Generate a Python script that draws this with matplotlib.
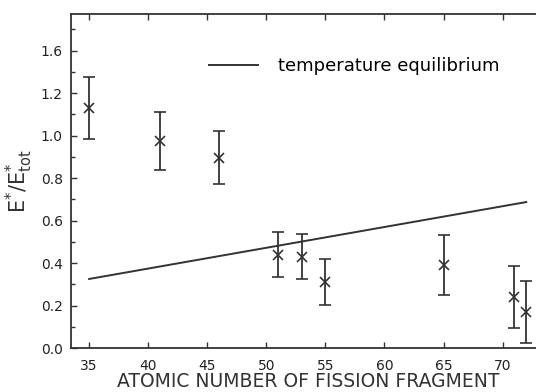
import matplotlib
matplotlib.use("Agg")
import matplotlib.pyplot as plt
import numpy as np

# atomic number Z of fission fragment, E*/E*tot and its error
z_frag = [35, 41, 46, 51, 53, 55, 65, 71, 72]
e_ratio = [1.13, 0.975, 0.895, 0.44, 0.43, 0.31, 0.39, 0.24, 0.17]
e_err = [0.145, 0.135, 0.125, 0.107, 0.107, 0.107, 0.14, 0.145, 0.145]

# temperature equilibrium line
z_eq = [35, 72]
e_eq = [0.325, 0.687]

xticks = [35, 40, 45, 50, 55, 60, 65, 70]
yticks = [0.0, 0.2, 0.4, 0.6, 0.8, 1.0, 1.2, 1.4]
ytick_labels = ["0.0", "0.2", "0.4", "0.6", "0.8", "1.0", "1.2", "1.6"]

matplotlib.rcParams.update({'font.size': 10, 'font.family': 'DejaVu Sans'})
col = '#333333'

fig = plt.figure(figsize=(5.36, 3.92), dpi=100)
ax = fig.add_axes([0.1325, 0.1122, 0.868, 0.852])

ax.plot(z_eq, e_eq, color=col, lw=1.4, label="temperature equilibrium")
ax.errorbar(z_frag, e_ratio, yerr=e_err, fmt='x', color=col, ms=7, mew=1.2,
            elinewidth=1.3, capsize=4, capthick=1.3)

ax.set_xlim(33.47, 72.85)
ax.set_ylim(0, 1.572)
ax.set_xticks(xticks)
ax.set_yticks(yticks)
ax.set_yticklabels(ytick_labels)
ax.set_yticks(np.arange(0.1, 1.55, 0.2), minor=True)

ax.tick_params(direction='in', top=True, right=False, length=4, width=1, colors=col,
               labelcolor='#222222', labelsize=10)
ax.tick_params(which='minor', direction='in', length=3, width=1, left=True, colors=col)
ax.tick_params(axis='x', pad=8)
ax.tick_params(axis='y', pad=6)
for s in ['left', 'bottom', 'top']:
    ax.spines[s].set_color(col)
    ax.spines[s].set_linewidth(1.3)
ax.spines['right'].set_visible(False)

ax.set_xlabel("ATOMIC NUMBER OF FISSION FRAGMENT", fontsize=13.5, color='#333333', labelpad=0)
ax.xaxis.set_label_coords(0.51, -0.072)
ax.set_ylabel("E$^{*}$/E$^{*}_{\\mathrm{tot}}$", fontsize=15, color='#333333', labelpad=4)

ax.legend(loc='upper left', bbox_to_anchor=(0.262, 0.92), frameon=False,
          handlelength=2.7, handletextpad=1.1, fontsize=13)

plt.savefig("out.png", dpi=100)
